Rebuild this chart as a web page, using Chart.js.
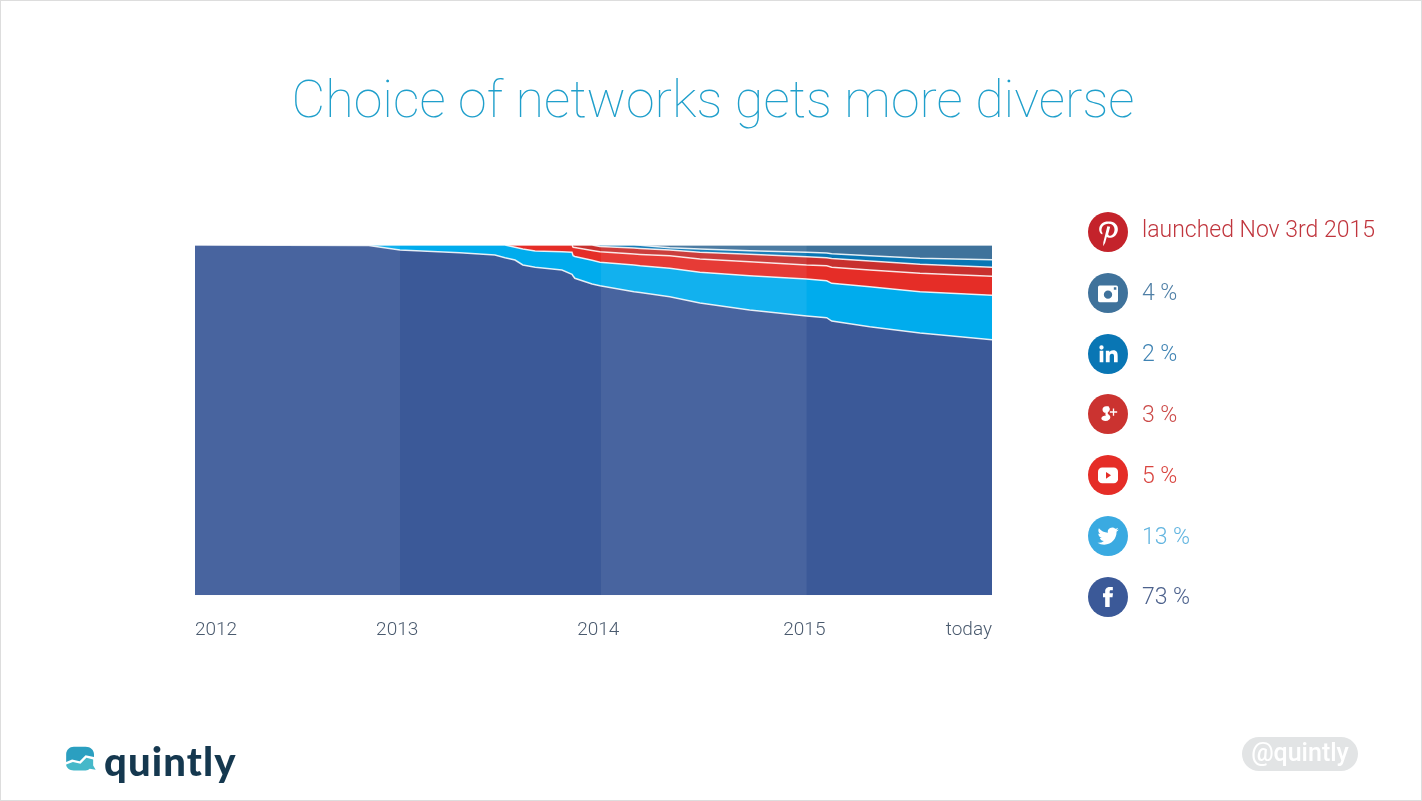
<!DOCTYPE html>
<html>
<head>
<meta charset="utf-8">
<title>Choice of networks gets more diverse</title>
<script src="https://cdn.jsdelivr.net/npm/chart.js@4"></script>
<style>
  html, body { margin: 0; padding: 0; background: #fff; }
  #page { position: relative; width: 1422px; height: 801px; overflow: hidden; font-family: Roboto, sans-serif; box-sizing: border-box; }
  #page:after { content: ""; position: absolute; left: 0; top: 0; right: 0; bottom: 0; border: 1px solid #ddd; pointer-events: none; }
  #salesChart { position: absolute; left: 0; top: 0; }
  h1 { position: absolute; left: 0; width: 1426px; top: 68px; margin: 0; text-align: center; font-size: 52px; line-height: 64px; font-weight: 100; color: #1f9fcb; }
  .item { position: absolute; left: 1088px; height: 40px; display: flex; align-items: center; }
  .item svg { width: 40px; height: 40px; flex: none; }
  .item span { position: relative; top: 0; margin-left: 14px; font-size: 23px; font-weight: 300; white-space: nowrap; }
  #logo { position: absolute; left: 65px; top: 746px; }
  #brand { position: absolute; left: 104px; top: 738px; font-family: Lato, sans-serif; font-weight: 900; font-size: 40px; letter-spacing: 1.1px; line-height: 46px; color: #15384f; }
  #handle { position: absolute; left: 1242px; top: 737px; width: 116px; height: 34px; border-radius: 17px; background: #e2e4e5; color: #fff; font-size: 25px; font-weight: 500; line-height: 32px; text-align: center; }
</style>
</head>
<body>
<div id="page">
  <canvas id="salesChart" width="1422" height="801"></canvas>
  <h1>Choice of networks gets more diverse</h1>
  <div id="legend"></div>
  <svg id="logo" width="31" height="27" viewBox="0 0 36 32">
    <path d="M10 1h14c6 0 10 4 10 9v3L24 11l-7 7-9-2-7 3v-9C1 5 5 1 10 1z" fill="#2b9fc0"/>
    <path d="M1 22l8-3 9 2 7-7 8 2v7l3 5-7-1c-1 1-3 2-5 2H10c-5 0-9-3-9-7z" fill="#45b8c9"/>
  </svg>
  <div id="brand">quintly</div>
  <div id="handle">@quintly</div>
</div>

<script>
// x values are days since the start of 2012
const days = [0, 311, 367, 474, 537, 555, 573, 587, 609, 657, 675, 677, 680, 711, 725, 786, 797, 850, 904, 993, 1095, 1131, 1140, 1208, 1298, 1427];

const facebook  = [100, 99.86, 98.57, 97.8, 97.14, 96.37, 95.71, 94.29, 93.63, 92.86, 91.63, 91.14, 90.49, 88.86, 88.37, 86.66, 86.43, 85.23, 83.43, 81.43, 79.71, 79.23, 78.29, 76.66, 74.86, 72.94];
const twitter   = [0, 0.14, 1.43, 2.2, 2.86, 3.63, 3.63, 4.57, 4.69, 5.2, 6.29, 5.8, 6.23, 6.77, 6.69, 7.63, 7.66, 8.11, 8.77, 9.8, 10.57, 10.57, 10.77, 11.43, 11.8, 12.69];
const youtube   = [0, 0, 0, 0, 0, 0, 0.66, 1.14, 1.69, 1.94, 2.08, 2.4, 2.54, 2.8, 3.03, 3.14, 3.23, 3.6, 3.8, 4, 4, 4.29, 4.6, 4.77, 5.26, 5.43];
const googleplus = [0, 0, 0, 0, 0, 0, 0, 0, 0, 0, 0, 0.66, 0.74, 1.57, 1.49, 1.71, 1.71, 1.63, 1.91, 2.11, 2.37, 2.29, 2.49, 2.57, 2.57, 2.57];
const linkedin  = [0, 0, 0, 0, 0, 0, 0, 0, 0, 0, 0, 0, 0, 0, 0.42, 0.86, 0.88, 0.66, 0.95, 1.02, 1.26, 1.33, 1.36, 1.51, 1.71, 2.17];
const instagram = [0, 0, 0, 0, 0, 0, 0, 0, 0, 0, 0, 0, 0, 0, 0, 0, 0.09, 0.77, 1.14, 1.64, 2.09, 2.29, 2.49, 3.06, 3.8, 4.2];
const pinterest = [0, 0, 0, 0, 0, 0, 0, 0, 0, 0, 0, 0, 0, 0, 0, 0, 0, 0, 0, 0, 0, 0, 0, 0, 0, 0];

const tickDays = [0, 362, 722, 1091, 1427];
const tickNames = ['2012', '2013', '2014', '2015', 'today'];
const shadedYears = [[0, 367], [727, 1095]];

const legendNames = ['pinterest', 'instagram', 'linkedin', 'googleplus', 'youtube', 'twitter', 'facebook'];
const legendLabels = ['launched Nov 3rd 2015', '4 %', '2 %', '3 %', '5 %', '13 %', '73 %'];
const legendColors = ['#c4232b', '#3f729b', '#0976b4', '#cb3330', '#e52d27', '#3aaae1', '#3b5998'];
const legendText = ['#c0353d', '#4f7fa6', '#3f83b3', '#cb4a48', '#d9443f', '#62b5e0', '#4c618c'];

const icons = {
  pinterest: '<path d="M12.3 5.5c-3.6 0-5.6 2.3-5.6 4.8 0 1.200.6 2.700 1.600 3.100.3.100.3 0 .4-.8-1.100-1.400-.9-5.400 3.400-5.600 3.500-.1 4.400 2.900 3.500 5.200-.7 2-2.900 2.900-3.500 1.100l1.200-4.500-1.700-.3-2.400 9.600-.1 2.400 1.200-2 1-3.600c1.100 1.200 5.800.9 6.600-4 .4-3-1.900-5.400-5.600-5.400z" fill="#fff"/>',
  instagram: '<path fill-rule="evenodd" d="M7 7.500h10a1 1 0 0 1 1 1v8a1 1 0 0 1-1 1H7a1 1 0 0 1-1-1v-8a1 1 0 0 1 1-1zm5 3a2.500 2.500 0 1 0 0 5 2.500 2.500 0 0 0 0-5zm3.500-2v1.500H17V8.500z" fill="#fff"/>',
  linkedin: '<path d="M7 10h2.200v7H7zM8.100 6.800a1.300 1.300 0 1 1 0 2.600 1.300 1.300 0 0 1 0-2.600zM10.700 10h2.100v1c.4-.7 1.200-1.200 2.300-1.200 2.300 0 2.700 1.500 2.700 3.500V17h-2.200v-3.300c0-.8 0-1.900-1.200-1.900s-1.400.9-1.400 1.800V17h-2.300z" fill="#fff"/>',
  googleplus: '<path transform="translate(1.200 -.8)" d="M11.200 8.200H9.700c-1.300 0-2.200 1-2.200 2s.9 1.900 1.900 1.900c-.4.800-.1 1.200.2 1.600-1.300 0-2.800.7-2.800 1.800 0 1 1.300 1.500 2.500 1.500 1.700 0 2.900-1 2.900-2.200 0-1.400-1.600-1.700-1.600-2.600 0-.7 1.300-1 1.300-2.300 0-.6-.3-1-.6-1.300zM14.500 9.500v1.700h1.800v.9h-1.800v1.700h-.8v-1.700h-1.800v-.9h1.800V9.500z" fill="#fff"/>',
  youtube: '<rect x="6" y="7.500" width="12" height="9.500" rx="2.500" fill="#fff"/><path d="M10.800 10.200l3 2-3 2z" fill="#e52d27"/>',
  twitter: '<path transform="translate(5.700 5.700) scale(.53)" d="M23.953 4.570a10 10 0 0 1-2.825.775 4.958 4.958 0 0 0 2.163-2.723c-.951.555-2.005.959-3.127 1.184a4.920 4.920 0 0 0-8.384 4.482C7.690 8.095 4.067 6.130 1.640 3.162a4.822 4.822 0 0 0-.666 2.475c0 1.710.870 3.213 2.188 4.096a4.904 4.904 0 0 1-2.228-.616v.060a4.923 4.923 0 0 0 3.946 4.827 4.996 4.996 0 0 1-2.212.085 4.936 4.936 0 0 0 4.604 3.417 9.867 9.867 0 0 1-6.102 2.105c-.390 0-.779-.023-1.170-.067a13.995 13.995 0 0 0 7.557 2.209c9.053 0 13.998-7.496 13.998-13.985 0-.210 0-.420-.015-.630A9.935 9.935 0 0 0 24 4.590z" fill="#fff"/>',
  facebook: '<path d="M13 9.800V8.700c0-.5.300-.7.600-.7h1.300V6h-1.900c-2 0-2.700 1.400-2.700 2.600v1.200H9v2.300h1.300V18H13v-5.900h1.700l.3-2.300z" fill="#fff"/>'
};

legendNames.forEach((name, i) => {
  const row = document.createElement('div');
  row.className = 'item';
  row.style.top = (212 + i * 60.8) + 'px';
  row.innerHTML = '<svg viewBox="0 0 24 24"><circle cx="12" cy="12" r="12" fill="' + legendColors[i] + '"/>' + icons[name] + '</svg>' +
    '<span style="color:' + legendText[i] + (i === 0 ? ';top:-3px' : '') + '">' + legendLabels[i] + '</span>';
  document.getElementById('legend').appendChild(row);
});

function band(label, values, color) {
  return {
    label: label,
    data: values,
    backgroundColor: color,
    borderColor: 'rgba(255,255,255,0.85)',
    borderWidth: 1.5,
    pointRadius: 0,
    tension: 0,
    fill: label === 'Facebook' ? 'origin' : '-1'
  };
}

// lighter stripes for every other year
const yearStripes = {
  id: 'yearStripes',
  afterDatasetsDraw(chart) {
    const { ctx, chartArea, scales } = chart;
    ctx.save();
    ctx.fillStyle = 'rgba(255,255,255,0.07)';
    shadedYears.forEach(([from, to]) => {
      const x0 = scales.x.getPixelForValue(from);
      const x1 = scales.x.getPixelForValue(to);
      ctx.fillRect(x0, chartArea.top, x1 - x0, chartArea.bottom - chartArea.top);
    });
    ctx.restore();
  }
};

const ctx = document.getElementById('salesChart').getContext('2d');
new Chart(ctx, {
  type: 'line',
  data: {
    labels: days,
    datasets: [
      band('Facebook', facebook, '#3b5998'),
      band('Twitter', twitter, '#00aced'),
      band('YouTube', youtube, '#e52d27'),
      band('Google+', googleplus, '#c8302e'),
      band('LinkedIn', linkedin, '#0976b4'),
      band('Instagram', instagram, '#3f729b'),
      band('Pinterest', pinterest, '#c4232b')
    ]
  },
  plugins: [yearStripes],
  options: {
    responsive: false,
    animation: false,
    // tick padding counts twice in the axis height
    layout: { padding: { left: 195, right: 430, top: 245, bottom: 135 } },
    plugins: {
      legend: { display: false },
      tooltip: { enabled: false }
    },
    scales: {
      x: {
        type: 'linear',
        min: 0,
        max: 1427,
        grid: { display: false, drawTicks: false },
        border: { display: false },
        afterBuildTicks: axis => { axis.ticks = tickDays.map(v => ({ value: v })); },
        ticks: {
          autoSkip: false,
          maxRotation: 0,
          align: 'inner',
          padding: 24,
          color: '#4a5a6e',
          font: { family: 'Roboto', size: 19, weight: '300' },
          callback: (value) => tickNames[tickDays.indexOf(value)]
        }
      },
      y: {
        stacked: true,
        display: false,
        min: 0,
        max: 100
      }
    }
  }
});
</script>
</body>
</html>
